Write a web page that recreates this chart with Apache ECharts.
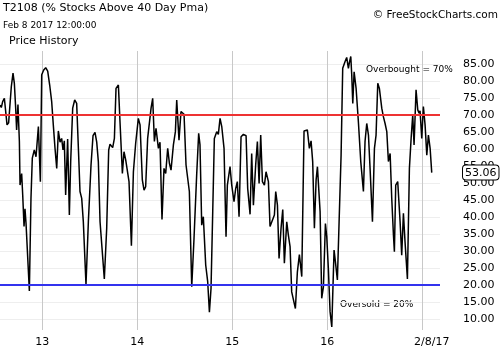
<!DOCTYPE html>
<html>
<head>
<meta charset="utf-8">
<script src="https://cdn.jsdelivr.net/npm/echarts@6/dist/echarts.min.js"></script>
<style>
  html, body { margin: 0; padding: 0; background: #fff; }
  #chart { width: 500px; height: 350px; }
</style>
</head>
<body>
<div id="chart"></div>
<script>
// dates as fractional years (13 = Jan 1 2013), values = T2108 %
var dates = [
  12.555,12.569,12.583,12.601,12.615,12.629,12.646,12.657,12.674,12.692,12.706,12.720,12.730,12.744,12.759,12.766,12.783,12.794,12.808,12.818,12.829,12.864,12.881,12.895,12.916,12.934,12.959,12.980,12.994,13.015,13.036,13.057,13.078,13.099,13.116,13.134,13.152,13.169,13.187,13.204,13.218,13.232,13.246,13.267,13.285,13.299,13.320,13.341,13.362,13.380,13.397,13.415,13.432,13.460,13.485,13.513,13.534,13.555,13.573,13.590,13.608,13.625,13.653,13.678,13.699,13.713,
  13.741,13.759,13.776,13.801,13.818,13.843,13.860,13.878,13.895,13.913,13.938,13.959,13.983,14.011,14.029,14.053,14.071,14.088,14.109,14.127,14.145,14.162,14.180,14.197,14.222,14.239,14.260,14.281,14.299,14.320,14.338,14.355,14.380,14.401,14.415,14.439,14.460,14.478,14.492,14.513,14.548,14.573,14.597,14.625,14.646,14.660,14.678,14.695,14.720,14.741,14.759,14.776,14.794,14.811,14.836,14.853,14.871,
  14.889,14.913,14.934,14.948,14.976,14.994,15.018,15.036,15.053,15.071,15.092,15.117,15.145,15.162,15.187,15.204,15.222,15.246,15.264,15.282,15.299,15.317,15.338,15.355,15.380,15.397,15.418,15.443,15.457,15.475,15.492,15.513,15.531,15.548,15.573,15.590,15.608,15.625,15.643,15.664,15.685,15.706,15.731,15.755,15.790,15.811,15.829,15.846,15.864,15.882,15.896,15.924,15.941,15.959,15.980,15.994,16.011,16.029,16.047,
  16.071,16.085,16.106,16.124,16.145,16.162,16.187,16.204,16.222,16.233,16.247,16.257,16.268,16.282,16.303,16.327,16.352,16.380,16.397,16.415,16.433,16.450,16.475,16.496,16.513,16.531,16.548,16.573,16.590,16.608,16.626,16.643,16.661,16.678,16.696,16.706,16.720,16.741,16.766,16.783,16.801,16.818,16.843,16.864,16.882,16.899,16.913,16.934,16.952,16.966,16.976,16.994,17.011,17.029,17.047,17.064,17.082,17.099
];
var values = [
  72.9,72.2,73.9,74.9,75.2,67.1,67.7,67.5,78.3,82.3,79.3,72.0,65.6,73.1,62.2,49.4,52.8,46.5,37.2,42.4,38.1,18.3,45.5,57.3,59.7,57.7,66.6,50.4,81.8,83.2,83.9,82.9,78.8,73.9,67.1,60.2,54.3,65.3,62.0,63.1,59.7,62.4,46.5,62.9,40.6,56.3,72.0,74.4,73.4,60.2,47.5,45.5,38.6,20.2,38.6,55.3,63.9,64.9,62.0,56.3,38.6,39.1,21.8,36.7,59.7,61.4,
  60.4,63.1,77.8,78.8,68.0,52.8,59.2,56.8,56.8,50.4,31.6,53.3,61.7,69.0,67.1,50.9,47.9,48.9,63.1,63.6,72.0,74.9,62.2,66.1,60.2,62.0,39.3,54.3,52.8,60.2,55.8,53.8,61.2,65.1,74.4,62.6,71.0,71.5,70.2,55.3,47.5,19.5,33.7,52.4,64.6,61.2,37.6,40.1,25.9,21.0,12.0,19.0,41.6,63.1,65.1,64.3,69.0,
  66.6,60.2,34.2,49.4,54.8,49.4,44.5,48.4,50.4,40.1,63.6,64.3,63.9,48.4,40.8,58.7,43.5,55.3,62.2,49.9,64.1,50.4,49.4,53.3,50.4,37.2,36.7,40.6,47.5,43.5,27.8,36.7,42.2,26.4,38.6,34.7,31.3,18.0,18.5,13.1,23.9,29.0,22.5,65.3,65.6,60.2,62.4,56.3,36.7,50.9,54.8,41.6,16.1,19.5,38.1,34.2,24.9,12.2,7.7,
  30.3,26.9,21.5,38.6,58.2,83.7,85.7,86.9,83.7,85.5,87.2,81.8,73.4,82.7,77.8,68.0,56.3,47.5,62.2,67.5,64.1,54.3,38.6,60.2,64.1,79.3,77.8,72.0,69.5,67.5,65.1,56.3,58.7,45.5,34.7,29.8,49.4,50.4,38.6,28.8,41.1,32.7,21.8,54.3,63.1,70.0,61.2,77.4,71.5,70.5,71.2,63.1,72.5,67.1,58.2,64.1,60.2,53.06
];
var yearTicks = [13, 14, 15, 16, 17];
var lastDateLabel = '2/8/17';
var yTicks = [10, 15, 20, 25, 30, 35, 40, 45, 50, 55, 60, 65, 70, 75, 80, 85];
var overbought = 70;
var oversold = 20;

var font = 'DejaVu Sans';
var lastDate = dates[dates.length - 1];
var lastValue = values[values.length - 1];

var chart = echarts.init(document.getElementById('chart'));
chart.setOption({
  animation: false,
  backgroundColor: '#fff',
  grid: { left: 0, right: 60, top: 51, bottom: 20 },
  xAxis: {
    type: 'value',
    min: 12.555,
    max: 17.186,
    axisLine: { show: false },
    axisTick: { show: false, customValues: yearTicks },
    axisLabel: {
      customValues: yearTicks.slice(0, 4).concat([lastDate]),
      formatter: function (v) { return v > 17 ? lastDateLabel : String(Math.round(v)); },
      color: '#000', fontFamily: font, fontSize: 11, margin: 7
    },
    splitLine: { show: true, lineStyle: { color: '#c8c8c8', width: 1 } }
  },
  yAxis: {
    type: 'value',
    position: 'right',
    min: 6.8,
    max: 88.8,
    axisLine: { show: false },
    axisTick: { show: false, customValues: yTicks },
    axisLabel: {
      customValues: yTicks,
      formatter: function (v) { return v.toFixed(2); },
      color: '#000', fontFamily: font, fontSize: 11, margin: 23
    },
    splitLine: { show: true, lineStyle: { color: '#eeeeee', width: 1 } },
    axisPointer: {
      show: true,
      value: lastValue,
      status: 'show',
      type: 'line',
      lineStyle: { opacity: 0 },
      label: {
        show: true,
        precision: 2,
        margin: 23,
        backgroundColor: '#fff',
        borderColor: '#000',
        borderWidth: 1,
        borderRadius: 3,
        padding: [2, 2, 1, 2],
        color: '#000',
        fontFamily: font,
        fontSize: 11
      }
    }
  },
  series: [{
    name: 'T2108',
    type: 'line',
    data: dates.map(function (d, i) { return [d, values[i]]; }),
    showSymbol: false,
    symbol: 'none',
    lineStyle: { color: '#000', width: 1.5 },
    z: 3,
    markLine: {
      silent: true,
      symbol: 'none',
      label: { show: false },
      data: [
        { yAxis: overbought, lineStyle: { color: '#ee3333', width: 2, type: 'solid' } },
        { yAxis: oversold, lineStyle: { color: '#3333ee', width: 2, type: 'solid' } }
      ]
    }
  }],
  graphic: [
    { type: 'text', left: 3, top: 3, style: { text: 'T2108 (% Stocks Above 40 Day Pma)', fill: '#000', font: '11px "DejaVu Sans"' } },
    { type: 'text', left: 3, top: 21, style: { text: 'Feb 8 2017 12:00:00', fill: '#000', font: '9px "DejaVu Sans"' } },
    { type: 'text', left: 9, top: 36, style: { text: 'Price History', fill: '#000', font: '11px "DejaVu Sans"' } },
    { type: 'text', right: 2, top: 10, style: { text: '© FreeStockCharts.com', fill: '#000', font: '10.5px "DejaVu Sans"' } },
    { type: 'text', left: 366, top: 65, style: { text: 'Overbought = ' + overbought + '%', fill: '#000', font: '9px "DejaVu Sans"' } },
    { type: 'text', left: 340, top: 300, style: { text: 'Oversold = ' + oversold + '%', fill: '#000', font: '9px "DejaVu Sans"' } }
  ]
});
</script>
</body>
</html>
